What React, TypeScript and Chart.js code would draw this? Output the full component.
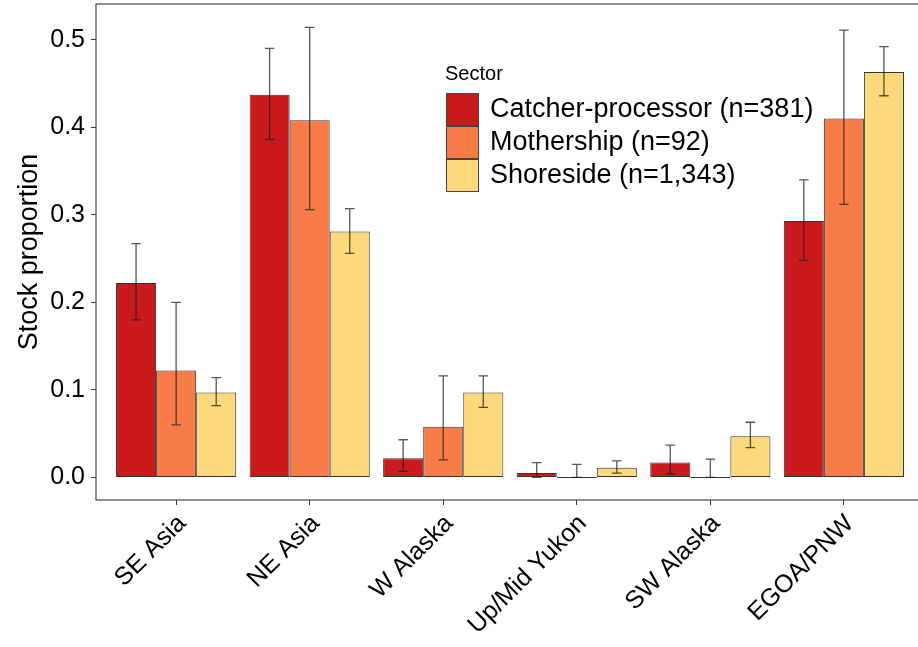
import React, { useEffect, useRef } from "react";
import { Chart, registerables } from "chart.js";

Chart.register(...registerables);

const categories = ["SE Asia", "NE Asia", "W Alaska", "Up/Mid Yukon", "SW Alaska", "EGOA/PNW"];
const seriesNames = ["Catcher-processor (n=381)", "Mothership (n=92)", "Shoreside (n=1,343)"];
const seriesColors = ["#CB1A1E", "#F87C47", "#FED97C"];

const cpValues = [0.222, 0.437, 0.022, 0.005, 0.017, 0.293];
const cpLow = [0.18, 0.386, 0.007, 0.0, 0.004, 0.248];
const cpHigh = [0.267, 0.49, 0.043, 0.017, 0.037, 0.34];

const msValues = [0.122, 0.408, 0.058, 0.0, 0.0, 0.41];
const msLow = [0.06, 0.306, 0.02, 0.0, 0.0, 0.312];
const msHigh = [0.2, 0.514, 0.116, 0.015, 0.021, 0.511];

const ssValues = [0.097, 0.281, 0.097, 0.011, 0.047, 0.463];
const ssLow = [0.082, 0.256, 0.08, 0.005, 0.034, 0.436];
const ssHigh = [0.114, 0.307, 0.116, 0.019, 0.063, 0.492];

const yTicks = [0, 0.1, 0.2, 0.3, 0.4, 0.5];
const yTitle = "Stock proportion";
const legendTitle = "Sector";

const FONT = "'Liberation Sans', Arial, sans-serif";

const lows = [cpLow, msLow, ssLow];
const highs = [cpHigh, msHigh, ssHigh];

const errorBarPlugin = {
  id: "errorBars",
  afterDatasetsDraw(chart: any) {
    const ctx = chart.ctx;
    const ys = chart.scales.y;
    ctx.save();
    ctx.strokeStyle = "rgba(30,30,30,0.75)";
    ctx.lineWidth = 1.3;
    chart.data.datasets.forEach((_: any, di: number) => {
      const meta = chart.getDatasetMeta(di);
      meta.data.forEach((bar: any, i: number) => {
        const x = bar.x;
        const y1 = ys.getPixelForValue(lows[di][i]);
        const y2 = ys.getPixelForValue(highs[di][i]);
        const cap = 4.75;
        ctx.beginPath();
        ctx.moveTo(x, y1);
        ctx.lineTo(x, y2);
        ctx.moveTo(x - cap, y1);
        ctx.lineTo(x + cap, y1);
        ctx.moveTo(x - cap, y2);
        ctx.lineTo(x + cap, y2);
        ctx.stroke();
      });
    });
    ctx.restore();
  },
  afterDraw(chart: any) {
    const ctx = chart.ctx;
    const a = chart.chartArea;
    ctx.save();
    ctx.strokeStyle = "#555";
    ctx.lineWidth = 1.3;
    ctx.strokeRect(a.left, a.top, a.right - a.left, a.bottom - a.top);
    ctx.fillStyle = "#000";
    ctx.font = `27px ${FONT}`;
    ctx.textAlign = "center";
    ctx.textBaseline = "middle";
    ctx.translate(30, (a.top + a.bottom) / 2);
    ctx.rotate(-Math.PI / 2);
    ctx.fillText(yTitle, 0, 0);
    ctx.restore();

    ctx.save();
    ctx.fillStyle = "#000";
    ctx.font = `20px ${FONT}`;
    ctx.textAlign = "left";
    ctx.textBaseline = "middle";
    ctx.fillText(legendTitle, 445, 74);
    seriesNames.forEach((name, k) => {
      const y0 = 93 + k * 33;
      ctx.fillStyle = seriesColors[k];
      ctx.fillRect(446, y0, 32, 33);
      ctx.strokeStyle = "#444";
      ctx.lineWidth = 1;
      ctx.strokeRect(446.5, y0 + 0.5, 32, 32);
      ctx.fillStyle = "#000";
      ctx.font = `27px ${FONT}`;
      ctx.fillText(name, 490, y0 + 17);
    });
    ctx.restore();
  },
};

export default function App() {
  const ref = useRef<HTMLCanvasElement | null>(null);
  useEffect(() => {
    if (!ref.current) return;
    const valuesList = [cpValues, msValues, ssValues];
    const chart = new Chart(ref.current, {
      type: "bar",
      data: {
        datasets: seriesNames.map((name, k) => ({
          label: name,
          data: valuesList[k].map((v, i) => ({ x: i, y: v })),
          backgroundColor: seriesColors[k],
          borderColor: "#333",
          borderWidth: 1,
          borderSkipped: false,
          minBarLength: 1,
          categoryPercentage: 0.9,
          barPercentage: 1.0,
        })),
      },
      options: {
        responsive: false,
        animation: false,
        layout: { padding: { left: 0, top: 4, right: 6, bottom: 0 } },
        plugins: {
          legend: { display: false },
          tooltip: { enabled: false },
          title: { display: false },
        },
        scales: {
          x: {
            type: "linear",
            min: -0.6,
            max: 5.6,
            offset: false,
            afterBuildTicks: (scale: any) => {
              scale.ticks = categories.map((_, i) => ({ value: i }));
            },
            afterFit: (scale: any) => {
              scale.height = 147;
              scale.paddingLeft = 0;
              scale.paddingRight = 0;
            },
            grid: {
              offset: false,
              drawOnChartArea: false,
              drawTicks: true,
              tickLength: 5,
              color: "#333",
            },
            border: { display: false },
            ticks: {
              autoSkip: false,
              minRotation: 45,
              maxRotation: 45,
              padding: 4,
              labelOffset: 6,
              color: "#000",
              font: { family: FONT, size: 25 },
              callback: (v: any) => categories[v] ?? "",
            },
          },
          y: {
            type: "linear",
            min: -0.0258,
            max: 0.5408,
            afterBuildTicks: (scale: any) => {
              scale.ticks = yTicks.map((v) => ({ value: v }));
            },
            afterFit: (scale: any) => {
              scale.width = 96;
              scale.paddingTop = 0;
              scale.paddingBottom = 0;
            },
            grid: {
              drawOnChartArea: false,
              drawTicks: true,
              tickLength: 5,
              color: "#333",
            },
            border: { display: false },
            ticks: {
              padding: 6,
              color: "#000",
              font: { family: FONT, size: 25 },
              callback: (v: any) => Number(v).toFixed(1),
            },
          },
        },
      },
      plugins: [errorBarPlugin],
    } as any);
    return () => chart.destroy();
  }, []);
  return (
    <div
      style={{
        position: "fixed",
        left: 0,
        top: 0,
        width: 918,
        height: 647,
        overflow: "hidden",
        background: "#fff",
      }}
    >
      <canvas ref={ref} width={930} height={647} style={{ display: "block" }} />
    </div>
  );
}
